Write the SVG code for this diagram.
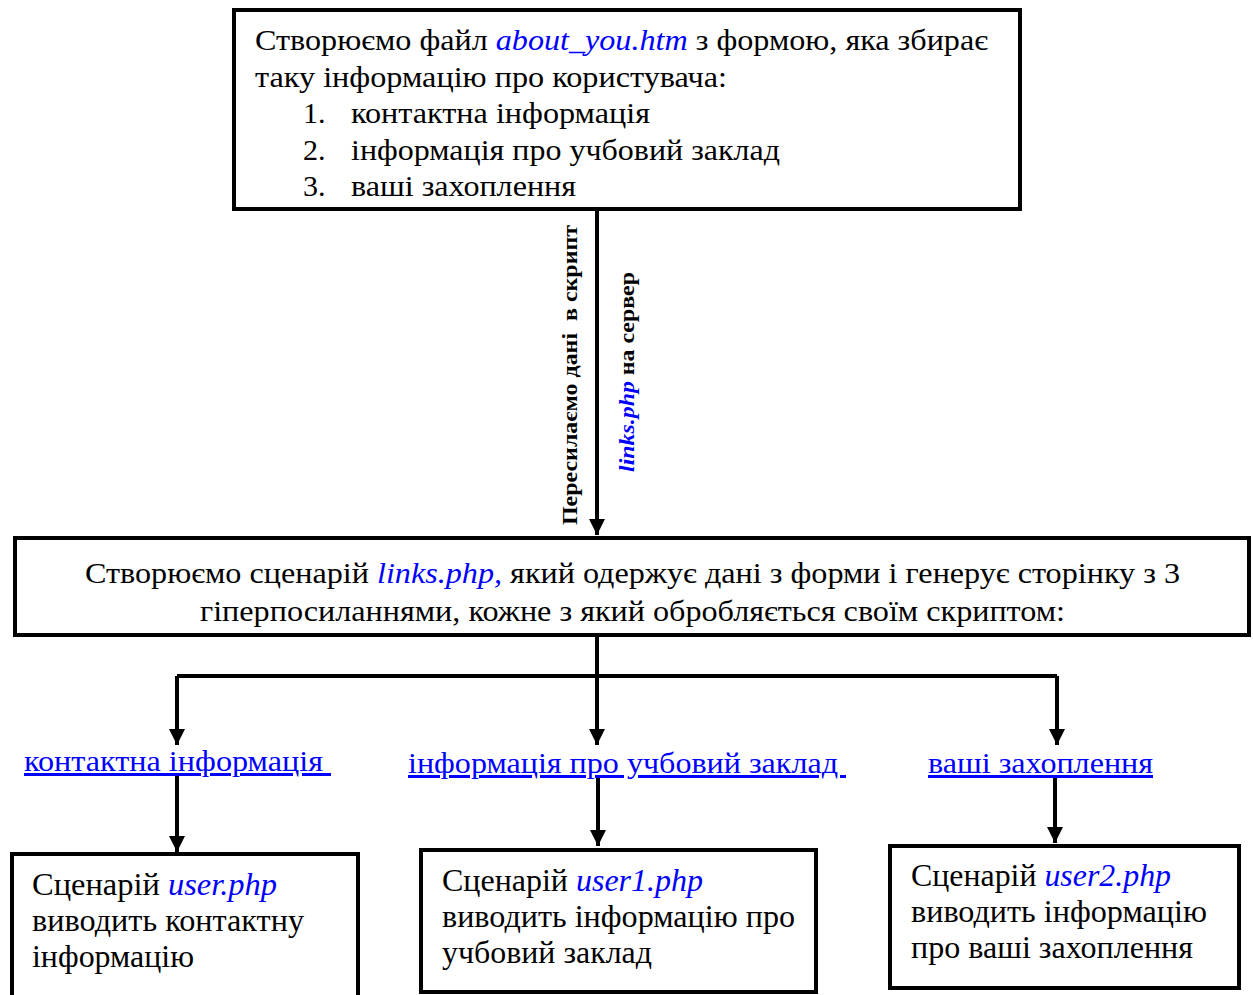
<svg xmlns="http://www.w3.org/2000/svg" width="1253" height="995" viewBox="0 0 1253 995">
<defs>
<style>
.t{font-family:"Liberation Serif","Times New Roman",serif;font-size:30px;fill:#000}
.s{font-size:32px}
.b{stroke:#000;stroke-width:4;fill:#fff}
.l{stroke:#000;stroke-width:4;fill:none}
.i{font-style:italic;fill:#0000ff}
.u{fill:#0000ff;text-decoration:underline}
.v{font-family:"Liberation Serif","Times New Roman",serif;font-size:22px;font-weight:bold;fill:#000}
</style>
<marker id="ah" viewBox="0 0 10 10" refX="10" refY="5" markerWidth="4" markerHeight="4" orient="auto" markerUnits="strokeWidth">
<path d="M0,0 L10,5 L0,10 z" fill="#000"/>
</marker>
<clipPath id="cm"><rect x="14" y="538" width="1236" height="89"/></clipPath>
</defs>
<rect width="1253" height="995" fill="#fff"/>
<g id="connectors">
<line class="l" x1="597" y1="209" x2="597" y2="535" marker-end="url(#ah)"/>
<polyline class="l" points="597,637 597,676"/>
<polyline class="l" points="177,676 1057,676"/>
<line class="l" x1="177" y1="676" x2="177" y2="745" marker-end="url(#ah)"/>
<line class="l" x1="597" y1="676" x2="597" y2="745" marker-end="url(#ah)"/>
<line class="l" x1="1057" y1="676" x2="1057" y2="745" marker-end="url(#ah)"/>
<line class="l" x1="177" y1="776" x2="177" y2="852" marker-end="url(#ah)"/>
<line class="l" x1="598" y1="776" x2="598" y2="846" marker-end="url(#ah)"/>
<line class="l" x1="1055" y1="776" x2="1055" y2="843" marker-end="url(#ah)"/>
<text class="v" transform="translate(577,525) rotate(-90)" textLength="300" lengthAdjust="spacingAndGlyphs" xml:space="preserve">Пересилаємо дані  в скрипт</text>
<text class="v" transform="translate(634,472) rotate(-90)" textLength="200" lengthAdjust="spacingAndGlyphs"><tspan style="font-style:italic;fill:#0000ff">links.php</tspan> на сервер</text>
</g>
<g id="top">
<rect class="b" x="234" y="10" width="786" height="199"/>
<text class="t" x="255" y="50" textLength="733" lengthAdjust="spacingAndGlyphs">Створюємо файл <tspan class="i">about_you.htm</tspan> з формою, яка збирає</text>
<text class="t" x="255" y="87" textLength="472" lengthAdjust="spacingAndGlyphs">таку інформацію про користувача:</text>
<text class="t" x="303" y="123">1.</text>
<text class="t" x="351" y="123" textLength="299" lengthAdjust="spacingAndGlyphs">контактна інформація</text>
<text class="t" x="303" y="160">2.</text>
<text class="t" x="351" y="160" textLength="429" lengthAdjust="spacingAndGlyphs">інформація про учбовий заклад</text>
<text class="t" x="303" y="196">3.</text>
<text class="t" x="351" y="196" textLength="225" lengthAdjust="spacingAndGlyphs">ваші захоплення</text>
</g>
<g id="middle">
<rect class="b" x="15" y="538" width="1234" height="97"/>
<g clip-path="url(#cm)">
<text class="t" x="85" y="583" textLength="1095" lengthAdjust="spacingAndGlyphs">Створюємо сценарій <tspan class="i">links.php,</tspan> який одержує дані з форми і генерує сторінку з 3</text>
<text class="t" x="200" y="621" textLength="865" lengthAdjust="spacingAndGlyphs">гіперпосиланнями, кожне з який обробляється своїм скриптом:</text>
</g>
</g>
<g id="link1"><text class="t u" x="24" y="771" textLength="307" lengthAdjust="spacingAndGlyphs" xml:space="preserve">контактна інформація </text></g>
<g id="link2"><text class="t u" x="408" y="773" textLength="438" lengthAdjust="spacingAndGlyphs" xml:space="preserve">інформація про учбовий заклад </text></g>
<g id="link3"><text class="t u" x="928" y="773" textLength="225" lengthAdjust="spacingAndGlyphs">ваші захоплення</text></g>
<g id="box1">
<rect class="b" x="12" y="854" width="346" height="160"/>
<text class="t s" x="32" y="895" textLength="245" lengthAdjust="spacingAndGlyphs">Сценарій <tspan class="i">user.php</tspan></text>
<text class="t s" x="32" y="931" textLength="272" lengthAdjust="spacingAndGlyphs">виводить контактну</text>
<text class="t s" x="32" y="967" textLength="162" lengthAdjust="spacingAndGlyphs">інформацію</text>
</g>
<g id="box2">
<rect class="b" x="421" y="850" width="395" height="142"/>
<text class="t s" x="442" y="891" textLength="261" lengthAdjust="spacingAndGlyphs">Сценарій <tspan class="i">user1.php</tspan></text>
<text class="t s" x="442" y="927" textLength="353" lengthAdjust="spacingAndGlyphs">виводить інформацію про</text>
<text class="t s" x="442" y="963" textLength="210" lengthAdjust="spacingAndGlyphs">учбовий заклад</text>
</g>
<g id="box3">
<rect class="b" x="890" y="846" width="349" height="142"/>
<text class="t s" x="911" y="886" textLength="260" lengthAdjust="spacingAndGlyphs">Сценарій <tspan class="i">user2.php</tspan></text>
<text class="t s" x="911" y="922" textLength="296" lengthAdjust="spacingAndGlyphs">виводить інформацію</text>
<text class="t s" x="911" y="958" textLength="282" lengthAdjust="spacingAndGlyphs">про ваші захоплення</text>
</g>
</svg>
